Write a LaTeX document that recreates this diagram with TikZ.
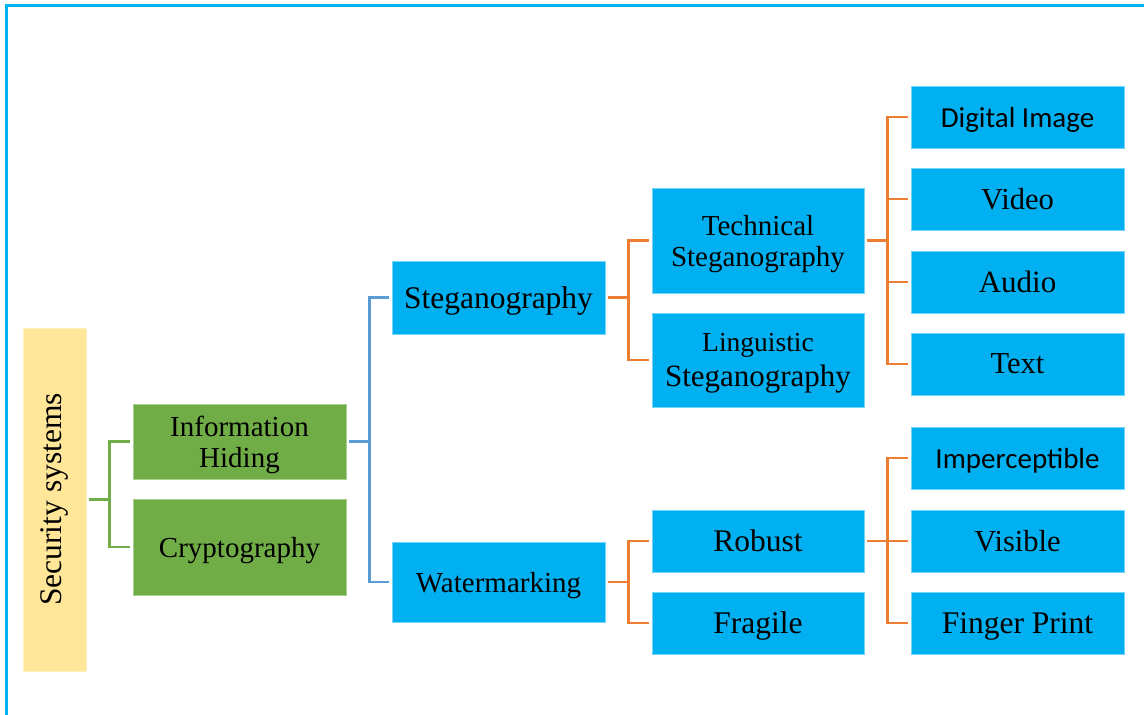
\documentclass[tikz,border=0pt]{standalone}
\usepackage{fontspec}
\setmainfont{Liberation Serif}
\newfontfamily\calib{Carlito}
\definecolor{boxcyan}{HTML}{00B0F0}
\definecolor{boxgreen}{HTML}{70AD47}
\definecolor{boxyellow}{HTML}{FFE699}
\definecolor{lnblue}{HTML}{5B9BD5}
\definecolor{lnorange}{HTML}{ED7D31}
\definecolor{frame}{HTML}{00B4F0}
\newcommand{\fs}[1]{\fontsize{#1}{#1}\selectfont}
\tikzset{
  box/.style={rectangle, inner sep=0pt, align=center, font=\fs{30}, text depth=0pt},
  cbox/.style={box, fill=boxcyan, draw=boxcyan!55!white, line width=0.8pt},
  gbox/.style={box, fill=boxgreen, draw=boxgreen!60!white, line width=0.8pt},
  ybox/.style={box, fill=boxyellow, draw=boxyellow!60!white, line width=0.8pt},
  conn/.style={line width=2.6pt, line cap=butt, line join=miter},
}
\begin{document}
\begin{tikzpicture}[x=1pt,y=-1pt]
\useasboundingbox (0,0) rectangle (1144,715);
\fill[white] (0,0) rectangle (1144,715);
\draw[frame, line width=2.4pt] (6.5,730) -- (6.5,5.5) -- (1160,5.5);

% nodes
\node[ybox, minimum width=63pt, minimum height=343pt] (sec) at (54.5,499.5) {};
\node[rotate=90, font=\fs{31.5}] (sectext) at (sec.center) {Security systems};
\node[gbox, minimum width=213pt, minimum height=75pt] (info) at (239.5,441.5) {\fs{29}Information\\[1pt]\fs{29}Hiding};
\node[gbox, minimum width=213pt, minimum height=96pt] (crypt) at (239.5,547) {\fs{29}Cryptography};

\node[cbox, minimum width=213pt, minimum height=73pt] (steg) at (498.5,297.5) {\fs{31.5}Steganography};
\node[cbox, minimum width=213pt, minimum height=80pt] (water) at (498.5,582) {\fs{29}Watermarking};

\node[cbox, minimum width=212pt, minimum height=105pt] (tech) at (758,240.5) {\fs{29}Technical\\[1pt]\fs{29}Steganography};
\node[cbox, minimum width=212pt, minimum height=94pt] (ling) at (758,360) {\fs{27.5}Linguistic\\[5pt]\fs{31}Steganography};
\node[cbox, minimum width=212pt, minimum height=62pt] (robust) at (758,541) {\fs{31.5}Robust};
\node[cbox, minimum width=212pt, minimum height=62pt] (fragile) at (758,623) {\fs{31.5}Fragile};

\node[cbox, minimum width=213pt, minimum height=62pt] (dig) at (1017.5,117) {\calib\fs{29}Digital Image};
\node[cbox, minimum width=213pt, minimum height=62pt] (video) at (1017.5,199) {\fs{30.5}Video};
\node[cbox, minimum width=213pt, minimum height=62pt] (audio) at (1017.5,282) {\fs{31}Audio};
\node[cbox, minimum width=213pt, minimum height=62pt] (text) at (1017.5,364) {\fs{30.5}Text};
\node[cbox, minimum width=213pt, minimum height=62pt] (imp) at (1017.5,458) {\calib\fs{29}Imperceptible};
\node[cbox, minimum width=213pt, minimum height=62pt] (vis) at (1017.5,541) {\fs{30.5}Visible};
\node[cbox, minimum width=213pt, minimum height=62pt] (fp) at (1017.5,623) {\fs{31.5}Finger Print};

% connectors
\foreach \a/\b/\c in {sec/info/boxgreen, sec/crypt/boxgreen,
                      info/steg/lnblue, info/water/lnblue,
                      steg/tech/lnorange, steg/ling/lnorange,
                      water/robust/lnorange, water/fragile/lnorange,
                      tech/dig/lnorange, tech/video/lnorange, tech/audio/lnorange, tech/text/lnorange,
                      robust/imp/lnorange, robust/vis/lnorange, robust/fp/lnorange}
  \draw[conn, \c] ([xshift=3pt]\a.east) -- ++(20,0) |- ([xshift=-3pt]\b.west);
\end{tikzpicture}
\end{document}
